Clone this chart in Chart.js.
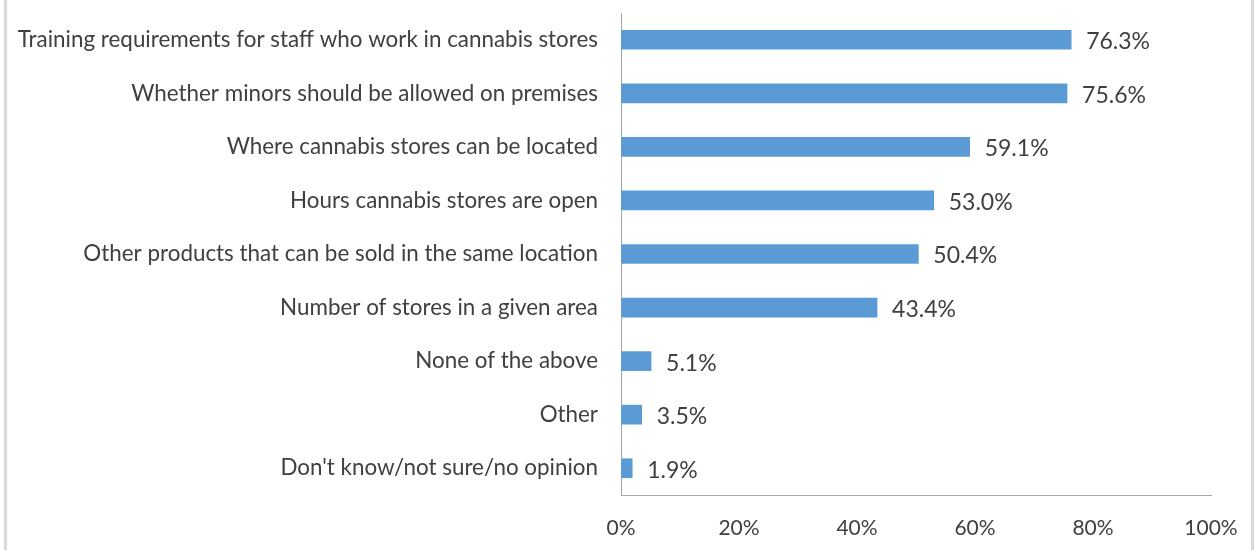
<!DOCTYPE html>
<html>
<head>
<meta charset="utf-8">
<script src="https://cdn.jsdelivr.net/npm/chart.js@4/dist/chart.umd.min.js"></script>
<style>
  html, body { margin: 0; padding: 0; background: #ffffff; }
  #wrap { position: relative; width: 1257px; height: 550px; }
  #wrap::before, #wrap::after {
    content: ""; position: absolute; top: 0; bottom: 0; width: 3px; background: #d9d9d9;
  }
  #wrap::before { left: 4px; }
  #wrap::after { left: 1251px; }
  canvas { display: block; }
</style>
</head>
<body>
<div id="wrap"><canvas id="c" width="1257" height="550"></canvas></div>
<script>
// Survey topics and share of respondents selecting each
const categories = [
  "Training requirements for staff who work in cannabis stores",
  "Whether minors should be allowed on premises",
  "Where cannabis stores can be located",
  "Hours cannabis stores are open",
  "Other products that can be sold in the same location",
  "Number of stores in a given area",
  "None of the above",
  "Other",
  "Don't know/not sure/no opinion"
];
const percentValues = [76.3, 75.6, 59.1, 53.0, 50.4, 43.4, 5.1, 3.5, 1.9];
const axisTicks = [0, 20, 40, 60, 80, 100];

const FONT = "Lato, 'Liberation Sans', sans-serif";
const FONT_SIZE = 22.4;
const TEXT = "#404040";

// Writes each bar's percentage just past its end
const valueLabels = {
  id: "valueLabels",
  afterDatasetsDraw(chart) {
    const ctx = chart.ctx;
    const meta = chart.getDatasetMeta(0);
    ctx.save();
    ctx.font = "23px " + FONT;
    ctx.fillStyle = TEXT;
    ctx.textAlign = "left";
    ctx.textBaseline = "middle";
    meta.data.forEach((bar, i) => {
      const v = chart.data.datasets[0].data[i];
      ctx.fillText(v.toFixed(1) + "%", bar.x + 15, bar.y + 2);
    });
    ctx.restore();
  }
};

new Chart(document.getElementById("c"), {
  type: "bar",
  data: {
    labels: categories,
    datasets: [{
      data: percentValues,
      backgroundColor: "#5b9bd5",
      borderWidth: 0,
      barThickness: 19
    }]
  },
  options: {
    indexAxis: "y",
    responsive: false,
    animation: false,
    layout: { padding: { left: 0, right: 46, top: 13, bottom: 0 } },
    plugins: { legend: { display: false }, tooltip: { enabled: false } },
    scales: {
      x: {
        min: 0, max: 100,
        afterBuildTicks(axis) { axis.ticks = axisTicks.map(v => ({ value: v })); },
        afterFit(axis) {
          axis.height = 55;
          axis.paddingLeft = 0; axis.paddingRight = 0;
        },
        grid: { display: true, color: "rgba(0,0,0,0)", drawTicks: false },
        border: { display: true, color: "#a6a6a6", width: 1, dash: [1, 1] },
        ticks: {
          padding: 21,
          color: TEXT,
          font: { family: FONT, size: 21 },
          callback: v => v + "%",
          maxRotation: 0
        }
      },
      y: {
        afterFit(axis) {
          axis.width = 621;
          axis.paddingTop = 0; axis.paddingBottom = 0;
        },
        grid: { display: true, color: "rgba(0,0,0,0)", drawTicks: false },
        border: { display: true, color: "#a6a6a6", width: 1, dash: [1, 1] },
        ticks: {
          padding: 23,
          color: TEXT,
          font: { family: FONT, size: FONT_SIZE }
        }
      }
    }
  },
  plugins: [valueLabels]
});
</script>
</body>
</html>
